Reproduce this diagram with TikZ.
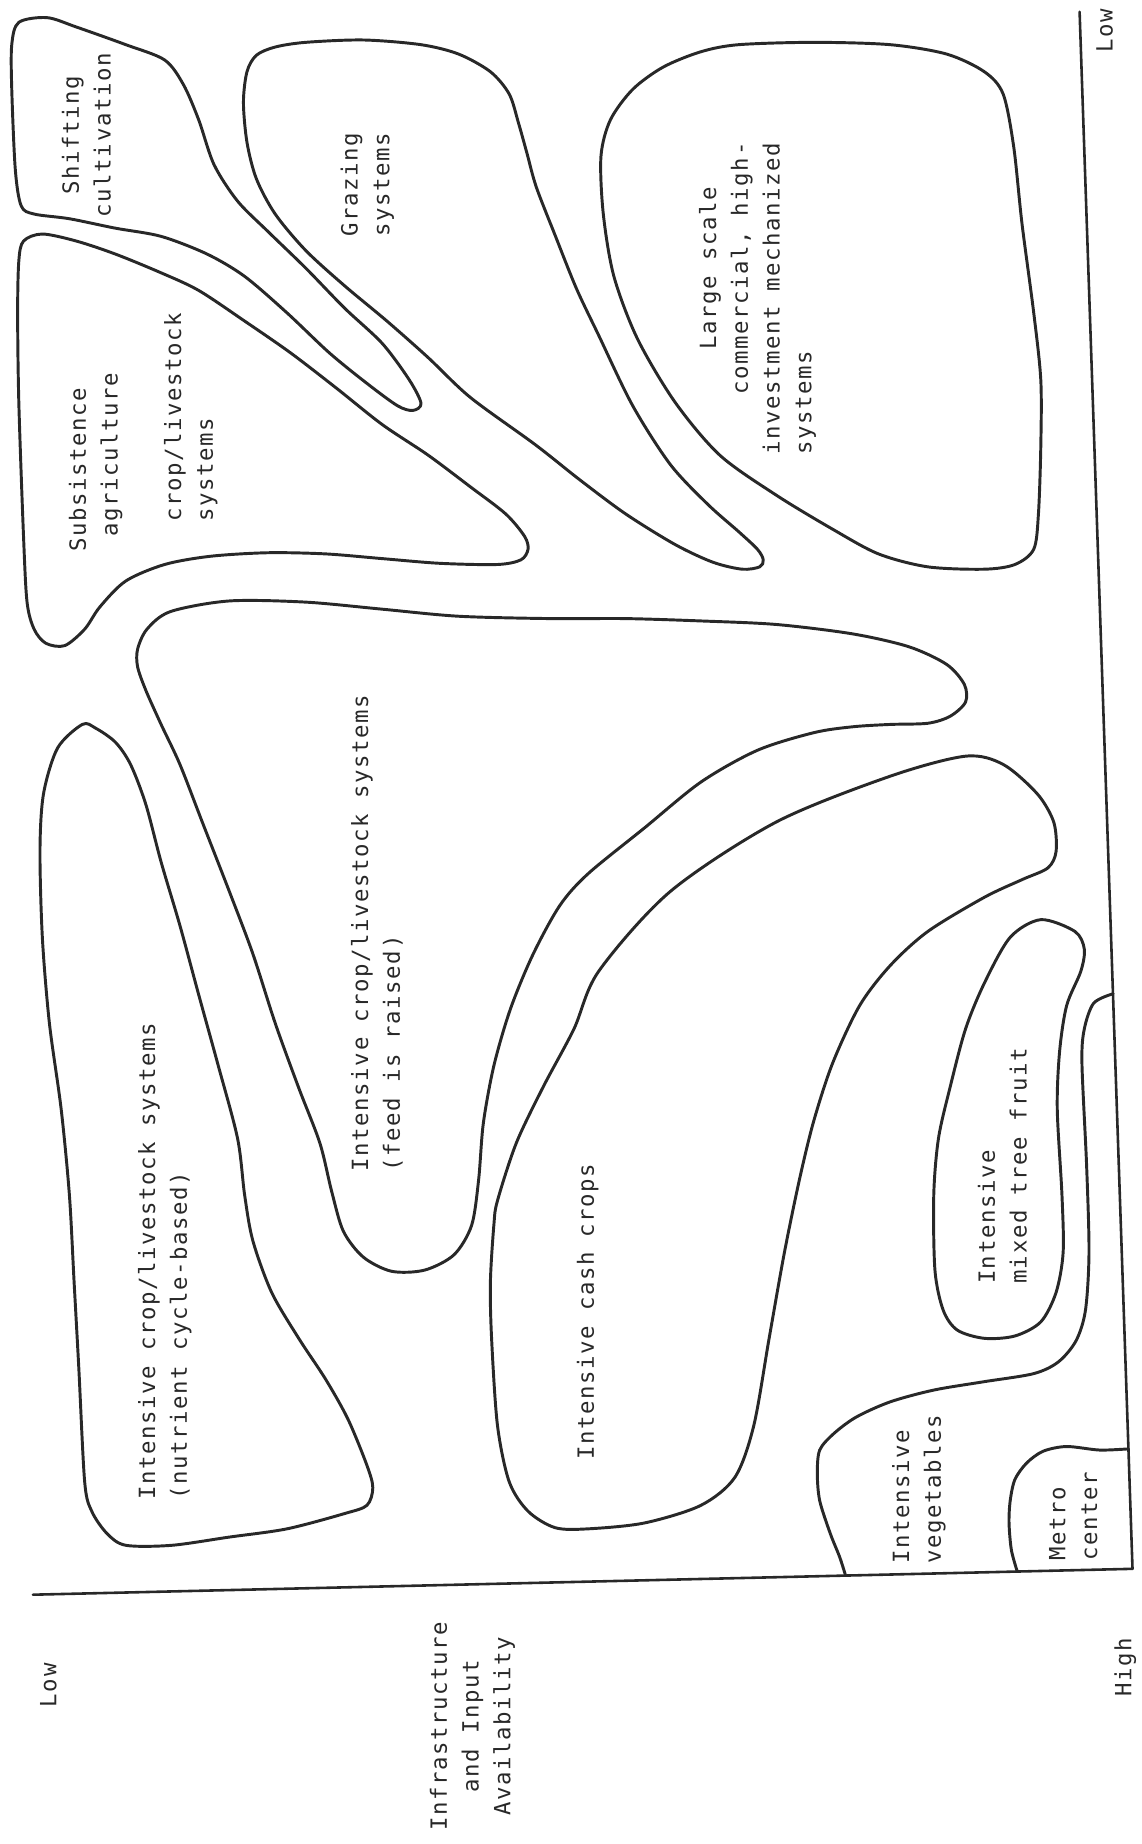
\documentclass[tikz,border=0pt]{standalone}
\usepackage{fontspec}
\newfontfamily\typefont[LetterSpace=7]{DejaVu Sans Mono}
\usetikzlibrary{math}
\definecolor{ink}{RGB}{40,40,40}
\newlength\chw
\setlength\chw{12.8pt}
\newcommand{\pad}[1]{\hspace*{#1\chw}}

\begin{document}
\begin{tikzpicture}[x=1pt, y=-1pt, line join=round, line cap=round,
  blob/.style={draw=ink, line width=2.5pt},
  axisline/.style={draw=ink, line width=2.2pt},
  lbl/.style={rotate=90, inner sep=0pt, text=ink, align=left,
    font=\typefont\fontsize{19}{27}\selectfont}]

\useasboundingbox (0,0) rectangle (971,1568);

%axes
\coordinate (axL) at (28,1356);
\coordinate (axC) at (963,1334);
\coordinate (axT) at (918,10);
\draw[axisline] (axL) -- (axC) -- (axT);

%shifting cultivation
\draw[blob] plot[smooth cycle] coordinates {(16,19) (40,15) (65,23) (107,38) (140,51) (156,72) (169,102) (182,140) (202,171) (228,197) (260,228) (293,262) (325,292) (348,323) (358,343) (351,349) (338,345) (312,326) (280,300) (244,266) (208,235) (176,216) (137,201) (98,194) (59,186) (29,182) (18,175) (13,144) (10,76) (10,38)};

%subsistence
\draw[blob] plot[smooth cycle] coordinates {(20,205) (36,199) (65,205) (98,216) (137,232) (169,247) (208,273) (247,300) (286,330) (325,361) (364,387) (400,414) (430,437) (446,456) (449,467) (443,476) (423,480) (374,479) (325,475) (277,471) (228,470) (179,473) (140,480) (107,494) (85,516) (72,535) (55,549) (39,547) (29,535) (23,512) (20,456) (16,342) (15,266) (16,222)};

%grazing
\draw[blob] plot[smooth cycle] coordinates {(218,47) (234,40) (260,36) (309,34) (358,38) (390,46) (417,61) (433,80) (441,105) (448,130) (456,159) (472,200) (490,245) (509,285) (538,345) (570,395) (602,429) (628,452) (644,467) (649,476) (646,482) (631,484) (606,478) (574,463) (532,437) (493,408) (455,378) (400,338) (364,304) (329,273) (293,243) (260,213) (234,182) (218,152) (210,121) (207,87) (210,61)};

%large scale
\draw[blob] plot[smooth cycle] coordinates {(596,44) (628,38) (692,36) (757,38) (805,46) (837,61) (853,80) (862,125) (869,190) (879,266) (885,323) (885,380) (883,437) (879,467) (863,480) (837,484) (789,482) (747,471) (708,450) (660,421) (612,387) (574,342) (542,288) (522,235) (513,182) (511,133) (519,102) (538,76) (564,57)};

%feed is raised
\draw[blob] plot[smooth cycle] coordinates {(117,552) (125,535) (145,520) (195,511) (260,512) (325,518) (390,524) (468,526) (532,526) (596,528) (660,531) (725,539) (773,550) (805,565) (820,582) (821,597) (808,609) (789,615) (757,616) (725,618) (692,623) (644,638) (596,665) (548,704) (500,743) (476,770) (453,812) (434,858) (420,906) (411,955) (407,1003) (401,1042) (386,1067) (361,1080) (333,1081) (309,1069) (292,1047) (282,1013) (272,972) (254,925) (234,870) (215,811) (195,758) (172,699) (153,650) (137,616) (124,587) (117,567)};

%nutrient cycle
\draw[blob] plot[smooth cycle] coordinates {(70,616) (49,636) (37,675) (34,723) (36,797) (42,870) (52,943) (59,1016) (63,1090) (67,1163) (72,1260) (78,1285) (91,1304) (107,1314) (146,1314) (195,1307) (244,1300) (293,1287) (312,1280) (317,1265) (312,1246) (296,1207) (277,1173) (254,1138) (231,1099) (215,1055) (208,1016) (202,968) (185,904) (169,846) (153,787) (137,733) (124,684) (111,650) (98,631) (81,619)};

%cash crops
\draw[blob] plot[smooth cycle] coordinates {(423,1021) (439,972) (462,924) (488,875) (509,826) (570,758) (660,699) (757,660) (821,643) (853,650) (882,675) (896,699) (898,724) (891,738) (869,748) (837,763) (789,792) (757,821) (731,855) (708,904) (692,953) (680,1002) (667,1065) (654,1138) (641,1212) (625,1256) (596,1280) (548,1295) (500,1300) (472,1299) (449,1285) (433,1260) (423,1212) (418,1138) (417,1090) (420,1041)};

%tree fruit
\draw[blob] plot[smooth cycle] coordinates {(885,782) (914,792) (922,807) (919,826) (907,855) (901,894) (899,943) (903,1016) (904,1065) (898,1099) (885,1124) (863,1136) (837,1138) (814,1131) (802,1114) (795,1080) (794,1016) (798,968) (808,924) (821,875) (837,836) (859,797)};

%vegetables
\draw[blob] plot[smooth] coordinates {(719,1339.7) (714,1324) (706,1304) (697,1276) (695,1253) (697,1233) (709,1219) (728,1205) (757,1192) (794,1182) (836,1175) (879,1168) (900,1158) (915,1140) (923,1114) (926,1065) (924,992) (920,904) (922,875) (930,853) (946.4,845)};

%metro
\draw[blob] plot[smooth] coordinates {(959.5,1232) (935,1233) (907,1230) (887,1234) (873,1244) (863,1258) (859,1276) (858,1295) (860,1318) (865,1336.3)};

%labels (base = last line)
\node[lbl, anchor=base, align=center] (shifting) at (94,115) {Shifting\\cultivation};
\node[lbl, anchor=base west] (subsist) at (181,469) {Subsistence\\\pad{1}agriculture\\\mbox{}\\\pad{2}crop/livestock\\\pad{2}systems};
\node[lbl, anchor=base, align=center] (grazing) at (331,157) {Grazing\\systems};
\node[lbl, anchor=base west] (largescale) at (690,387) {\pad{7}Large scale\\\pad{4}commercial, high-\\investment mechanized\\systems};
\node[lbl, anchor=base west] (feed) at (340,996) {Intensive crop/livestock systems\\(feed is raised)};
\node[lbl, anchor=base west] (nutrient) at (159,1275) {Intensive crop/livestock systems\\(nutrient cycle-based)};
\node[lbl, anchor=base west] (cash) at (505,1241) {Intensive cash crops};
\node[lbl, anchor=base west] (fruit) at (873,1092) {Intensive\\mixed tree fruit};
\node[lbl, anchor=base west] (veg) at (800,1330) {Intensive\\vegetables};
\node[lbl, anchor=base west] (metro) at (933,1327) {Metro\\center};

%axis labels
\node[lbl, anchor=base, align=center] (infra) at (434,1468) {Infrastructure\\and Input\\Availability};
\node[lbl, anchor=base] (lowx) at (48,1433) {Low};
\node[lbl, anchor=base] (highx) at (962,1418) {High};
\node[lbl, anchor=base] (lowy) at (946,26) {Low};

\end{tikzpicture}
\end{document}
